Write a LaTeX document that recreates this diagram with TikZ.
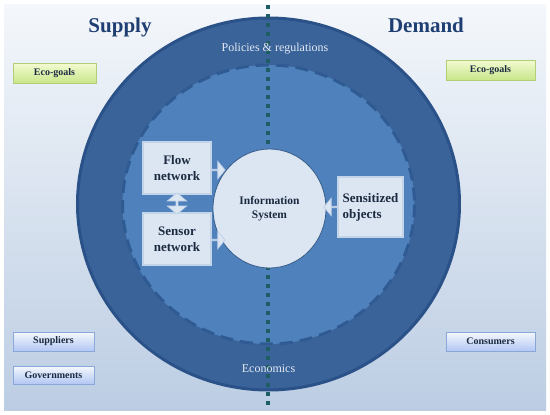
\documentclass[tikz,border=0pt]{standalone}
\usepackage{fontspec}
\setmainfont{Liberation Serif}
\usetikzlibrary{shapes.geometric,shapes.arrows,shadows,calc}
\definecolor{bgtop}{HTML}{F4F7FB}
\definecolor{bgbot}{HTML}{BCCDE3}
\definecolor{ringc}{HTML}{3A6399}
\definecolor{ringb}{HTML}{2B5288}
\definecolor{innerc}{HTML}{4F81BD}
\definecolor{dashc}{HTML}{2F5B92}
\definecolor{dotc}{HTML}{1F5D64}
\definecolor{boxf}{HTML}{DCE6F2}
\definecolor{boxb}{HTML}{C3D4E9}
\definecolor{circb}{HTML}{385D8A}
\definecolor{txtc}{HTML}{1B2A41}
\definecolor{titlec}{HTML}{1F3F73}
\definecolor{lighttxt}{HTML}{E2E9F3}
\definecolor{greentop}{HTML}{F3FBD2}
\definecolor{greenbot}{HTML}{C9E68A}
\definecolor{greenb}{HTML}{B2CF78}
\definecolor{bluetop}{HTML}{F5F8FE}
\definecolor{bluebot}{HTML}{B2C7F3}
\definecolor{blueb}{HTML}{8AA7DA}
\tikzset{
  innerbox/.style={rectangle, fill=boxf, draw=boxb, line width=1.2pt, inner sep=0pt,
    text=txtc, font=\fontsize{13}{16}\selectfont\bfseries},
  greenbtn/.style={rectangle, top color=greentop, bottom color=greenbot, draw=greenb,
    line width=0.8pt, inner sep=0pt, text=txtc, font=\fontsize{10}{12}\selectfont\bfseries,
    drop shadow={shadow xshift=1pt, shadow yshift=-1pt, opacity=0.35}},
  bluebtn/.style={rectangle, top color=bluetop, bottom color=bluebot, draw=blueb,
    line width=0.8pt, inner sep=0pt, text=txtc, font=\fontsize{10}{12}\selectfont\bfseries,
    drop shadow={shadow xshift=1pt, shadow yshift=-1pt, opacity=0.35}},
  blockarrow/.style={single arrow, fill=boxf, draw=boxb, line width=0.8pt, inner sep=0pt,
    minimum height=13pt, minimum width=17pt, single arrow head extend=4.5pt,
    single arrow tip angle=100},
  dblarrow/.style={double arrow, fill=boxf, draw=boxb, line width=0.8pt, inner sep=0pt,
    minimum height=21pt, minimum width=19pt, double arrow head extend=3.5pt,
    double arrow tip angle=100, shape border rotate=90},
  title/.style={text=titlec, font=\fontsize{21}{24}\selectfont\bfseries, anchor=base},
  ringlabel/.style={text=lighttxt, font=\fontsize{12}{14}\selectfont, anchor=base}
}
\begin{document}
\begin{tikzpicture}[x=1pt,y=-1pt]
\useasboundingbox (0,0) rectangle (550,415);
% background
\fill[white] (0,0) rectangle (550,415);
\shade[top color=bgtop, bottom color=bgbot] (4,4) rectangle (546,410);
% outer ring
\filldraw[fill=ringc, draw=ringb, line width=3pt] (268.5,204) ellipse [x radius=191, y radius=186];
% inner area
\fill[innerc] (268.5,204.5) ellipse [x radius=146, y radius=139.5];
\draw[dashc, line width=3pt, dash pattern=on 13pt off 7pt] (268.5,204.5) ellipse [x radius=146, y radius=139.5];
% dotted divider
\coordinate (dtop) at (268,5);
\coordinate (dbot) at (268,408);
\draw[dotc, line width=3.5pt, dash pattern=on 3.5pt off 5.5pt] (dtop) -- (dbot);
% titles
\node[title] (supply) at (120,32) {Supply};
\node[title] (demand) at (426,32) {Demand};
\node[ringlabel] (policies) at (275,51) {Policies \& regulations};
\node[ringlabel] (economics) at (268.5,372) {Economics};
% information system
\node[ellipse, fill=boxf, draw=circb, line width=0.8pt, minimum width=113pt, minimum height=119pt,
  inner sep=0pt, align=center, text=txtc, font=\fontsize{11.5}{13.5}\selectfont\bfseries]
  (info) at (269.5,208.5) {Information\\System};
% inner boxes
\node[innerbox, minimum width=68pt, minimum height=52pt, align=center] (flow) at (177,168) {Flow\\network};
\node[innerbox, minimum width=68pt, minimum height=52pt, align=center] (sensor) at (177,239) {Sensor\\network};
\node[innerbox, minimum width=65pt, minimum height=60pt, align=left] (sens) at (370.5,207) {Sensitized\\objects};
% block arrows
\node[blockarrow, anchor=tail] (a1) at ([yshift=-2pt]flow.east) {};
\node[blockarrow, anchor=tail] (a2) at ([yshift=-1pt]sensor.east) {};
\node[blockarrow, anchor=tail, shape border rotate=180] (a3) at (sens.west) {};
\node[dblarrow] (a4) at ($(flow.south)!0.5!(sensor.north)$) {};
% side buttons
\node[greenbtn, minimum width=83pt, minimum height=20pt] (ecoL) at (54.5,73) {Eco-goals};
\node[greenbtn, minimum width=89pt, minimum height=20pt] (ecoR) at (490.5,70) {Eco-goals};
\node[bluebtn, minimum width=81pt, minimum height=19pt] (supp) at (53.5,341.5) {Suppliers};
\node[bluebtn, minimum width=81pt, minimum height=18pt] (gov) at (53.5,375) {Governments};
\node[bluebtn, minimum width=89pt, minimum height=19pt] (cons) at (490.5,341.5) {Consumers};
\end{tikzpicture}
\end{document}
